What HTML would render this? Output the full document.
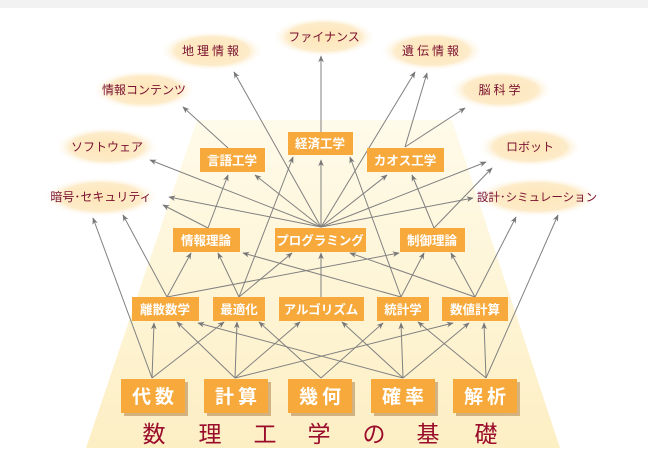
<!DOCTYPE html>
<html><head><meta charset="utf-8"><style>
html,body{margin:0;padding:0;background:#fff;}
svg{display:block;}
.e{font-family:"Liberation Sans","Noto Sans CJK JP",sans-serif;font-size:12px;fill:#7a1030;}
.b{font-family:"Liberation Sans","Noto Sans CJK JP",sans-serif;font-size:12.5px;fill:#fff;font-weight:bold;}
.big{font-family:"Liberation Sans","Noto Sans CJK JP",sans-serif;font-size:19px;fill:#fff;font-weight:bold;}
.f{font-family:"Liberation Sans","Noto Sans CJK JP",sans-serif;font-size:23px;fill:#9a0c2c;}
</style></head><body>
<svg width="648" height="457" viewBox="0 0 648 457">
<defs>
<radialGradient id="eg" cx="50%" cy="50%" r="50%">
<stop offset="0" stop-color="#fde6b8"/><stop offset="0.7" stop-color="#fdebc8"/><stop offset="1" stop-color="#fff" stop-opacity="0"/>
</radialGradient>
<linearGradient id="tg" x1="0" y1="0" x2="0" y2="1">
<stop offset="0" stop-color="#fffbea"/><stop offset="1" stop-color="#fdefc4"/>
</linearGradient>
<marker id="a" viewBox="0 0 10 10" refX="9" refY="5" markerWidth="7" markerHeight="7" orient="auto">
<path d="M0,1 L10,5 L0,9 L3,5 z" fill="#777"/>
</marker>
</defs>
<rect x="0" y="0" width="648" height="8" fill="#f2f2f2"/>
<polygon points="197,120 452,120 560,448 86,448" fill="url(#tg)"/>
<!-- ellipses -->
<g>
<ellipse cx="324" cy="37" rx="52" ry="20" fill="url(#eg)"/>
<ellipse cx="212" cy="51" rx="52" ry="20" fill="url(#eg)"/>
<ellipse cx="432" cy="51" rx="52" ry="20" fill="url(#eg)"/>
<ellipse cx="144" cy="90" rx="52" ry="20" fill="url(#eg)"/>
<ellipse cx="501" cy="90" rx="52" ry="20" fill="url(#eg)"/>
<ellipse cx="107" cy="147" rx="52" ry="20" fill="url(#eg)"/>
<ellipse cx="530" cy="147" rx="52" ry="20" fill="url(#eg)"/>
<ellipse cx="101" cy="197" rx="58" ry="20" fill="url(#eg)"/>
<ellipse cx="537" cy="197" rx="62" ry="20" fill="url(#eg)"/>
</g>
<g class="e" text-anchor="middle">
<text x="324" y="41">ファイナンス</text>
<text x="212" y="55" letter-spacing="3">地理情報</text>
<text x="432" y="55" letter-spacing="3">遺伝情報</text>
<text x="144" y="94">情報コンテンツ</text>
<text x="501" y="94" letter-spacing="3">脳科学</text>
<text x="107" y="151">ソフトウェア</text>
<text x="530" y="151">ロボット</text>
<text x="101" y="201">暗号･セキュリティ</text>
<text x="537" y="201" font-size="11.5">設計･シミュレーション</text>
</g>
<!-- edges -->
<g stroke="#808080" stroke-width="1" fill="none" marker-end="url(#a)">
<path d="M152,378L93,218"/><path d="M152,378L154,323"/><path d="M152,378L224,322"/>
<path d="M235,378L177,322"/><path d="M235,378L237,322"/><path d="M235,378L300,322"/><path d="M235,378L453,323"/>
<path d="M321,378L259,322"/><path d="M321,378L383,323"/>
<path d="M403,378L198,323"/><path d="M403,378L342,322"/><path d="M403,378L401,323"/><path d="M403,378L469,323"/>
<path d="M486,378L484,323"/><path d="M486,378L418,322"/><path d="M486,378L558,215"/>
<path d="M167,297L123,215"/><path d="M167,297L191,253"/><path d="M167,297L399,253"/>
<path d="M239,297L218,253"/><path d="M239,297L293,157"/><path d="M239,297L292,253"/>
<path d="M321,297L321,253"/>
<path d="M401,297L243,253"/><path d="M401,297L350,157"/><path d="M401,297L424,253"/>
<path d="M475,297L350,253"/><path d="M475,297L451,253"/><path d="M475,297L516,217"/>
<path d="M208,228L228,175"/><path d="M208,228L163,205"/>
<path d="M321,227L150,160"/><path d="M321,227L169,197"/><path d="M321,227L255,175"/><path d="M321,227L234,72"/>
<path d="M321,227L321,160"/><path d="M321,227L415,72"/><path d="M321,227L387,175"/><path d="M321,227L486,162"/><path d="M321,227L473,198"/>
<path d="M434,228L412,175"/><path d="M434,228L492,168"/>
<path d="M228,148L183,107"/>
<path d="M321,132L321,56"/>
<path d="M405,147L427,73"/><path d="M405,147L465,108"/>
</g>
<!-- boxes -->
<g fill="#f7a93c">
<rect x="200" y="148" width="65" height="24"/>
<rect x="288" y="132" width="65" height="23"/>
<rect x="367" y="148" width="77" height="24"/>
<rect x="173" y="228" width="67" height="24"/>
<rect x="275" y="228" width="91" height="24"/>
<rect x="400" y="228" width="65" height="24"/>
<rect x="132" y="297" width="67" height="24"/>
<rect x="213" y="297" width="52" height="24"/>
<rect x="279" y="297" width="85" height="24"/>
<rect x="377" y="297" width="52" height="24"/>
<rect x="442" y="297" width="66" height="24"/>
</g>
<g fill="#b88a52" opacity="0.6">
<rect x="124" y="382" width="64" height="34"/><rect x="207" y="382" width="64" height="34"/><rect x="291" y="382" width="64" height="34"/><rect x="374" y="382" width="64" height="34"/><rect x="456" y="382" width="64" height="34"/>
</g>
<g fill="#f7a93c">
<rect x="121" y="379" width="64" height="34"/><rect x="204" y="379" width="64" height="34"/><rect x="288" y="379" width="64" height="34"/><rect x="371" y="379" width="64" height="34"/><rect x="453" y="379" width="64" height="34"/>
</g>
<g class="b" text-anchor="middle">
<text x="232" y="165">言語工学</text>
<text x="320" y="148">経済工学</text>
<text x="405" y="165">カオス工学</text>
<text x="206" y="245">情報理論</text>
<text x="320" y="245">プログラミング</text>
<text x="432" y="245">制御理論</text>
<text x="165" y="314">離散数学</text>
<text x="239" y="314">最適化</text>
<text x="321" y="314">アルゴリズム</text>
<text x="403" y="314">統計学</text>
<text x="475" y="314">数値計算</text>
</g>
<g class="big" text-anchor="middle" letter-spacing="4">
<text x="155" y="403">代数</text><text x="238" y="403">計算</text><text x="322" y="403">幾何</text><text x="405" y="403">確率</text><text x="487" y="403">解析</text>
</g>
<g class="f" text-anchor="middle">
<text x="154" y="442">数</text><text x="210" y="442">理</text><text x="265" y="442">工</text><text x="319" y="442">学</text><text x="374" y="442">の</text><text x="428" y="442">基</text><text x="486" y="442">礎</text>
</g>
</svg>
</body></html>
